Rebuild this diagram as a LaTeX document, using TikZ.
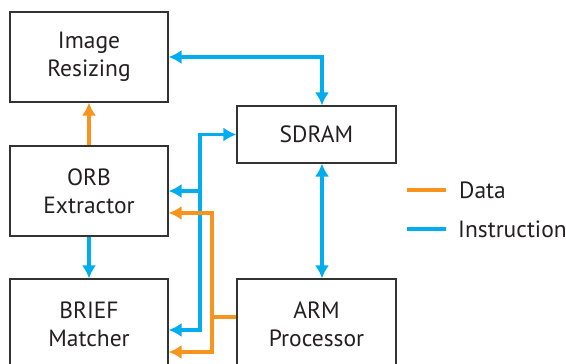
\documentclass[tikz,border=0pt]{standalone}
\usepackage{fontspec}
\setmainfont{PT Sans}
\usetikzlibrary{arrows.meta}

\newlength{\du}
\setlength{\du}{1\unitlength}

\definecolor{datacolor}{rgb}{0.969, 0.580, 0.114}
\definecolor{instrcolor}{rgb}{0.000, 0.682, 0.937}
\definecolor{boxcolor}{rgb}{0.200, 0.200, 0.200}
\definecolor{textcolor}{rgb}{0.137, 0.122, 0.125}

\tikzset{
  >={Latex[length=13pt,width=14pt]},
  block/.style={draw=boxcolor, line width=1.1\du, minimum width=158\du, align=center,
    text=textcolor, font=\fontsize{23.5}{28}\selectfont},
  legend/.style={anchor=west, inner sep=0pt, text=textcolor, font=\fontsize{23.5}{28}\selectfont},
  data/.style={draw=datacolor, line width=3.2\du},
  instr/.style={draw=instrcolor, line width=3.2\du},
}

\begin{document}
\begin{tikzpicture}
\pgftransformxscale{1.000000}
\pgftransformyscale{-1.000000}
\useasboundingbox (0\du,0\du) rectangle (566\du,364\du);
% blocks
\node[block, minimum height=90\du] (img) at (89\du,57\du){Image\\Resizing};
\node[block, minimum height=90\du] (orb) at (89\du,191\du){ORB\\Extractor};
\node[block, minimum height=90\du] (brief) at (89\du,324\du){BRIEF\\Matcher};
\node[block, minimum width=159\du, minimum height=57\du] (sdram) at (316.5\du,134.5\du){SDRAM};
\node[block, minimum width=159\du, minimum height=90\du] (arm) at (316.5\du,324\du){ARM\\Processor};
% bus points
\coordinate (busTop) at (200\du,134.5\du);
\coordinate (busBot) at (200\du,330\du);
\coordinate (dataJ) at (212\du,317\du);
\coordinate (dataTop) at (212\du,213\du);
\coordinate (dataBot) at (212\du,352\du);
\coordinate (sdTurn) at (322\du,57\du);
% instruction lines
\draw[instr,<->] (img.east) -- (sdTurn) -- (sdTurn |- sdram.north);
\draw[instr,<->] (sdTurn |- sdram.south) -- (sdTurn |- arm.north);
\draw[instr,->] (orb.south) -- (brief.north);
\draw[instr,<->] (sdram.west) -- (busTop) -- (busBot) -- (busBot -| brief.east);
\draw[instr,->] (busTop |- orb.east) -- (orb.east);
% data lines
\draw[data,->] (orb.north) -- (img.south);
\draw[data] (arm.west |- dataJ) -- (dataJ);
\draw[data,<->] (orb.east |- dataTop) -- (dataTop) -- (dataBot) -- (brief.east |- dataBot);
% legend
\node[legend] (legData) at (459\du,190\du){Data};
\node[legend] (legInstr) at (458\du,229\du){Instruction};
\draw[data] ([xshift=-13\du]legData.west) -- ([xshift=-52\du]legData.west);
\draw[instr] ([xshift=-12\du]legInstr.west) -- ([xshift=-51\du]legInstr.west);
\end{tikzpicture}
\end{document}
